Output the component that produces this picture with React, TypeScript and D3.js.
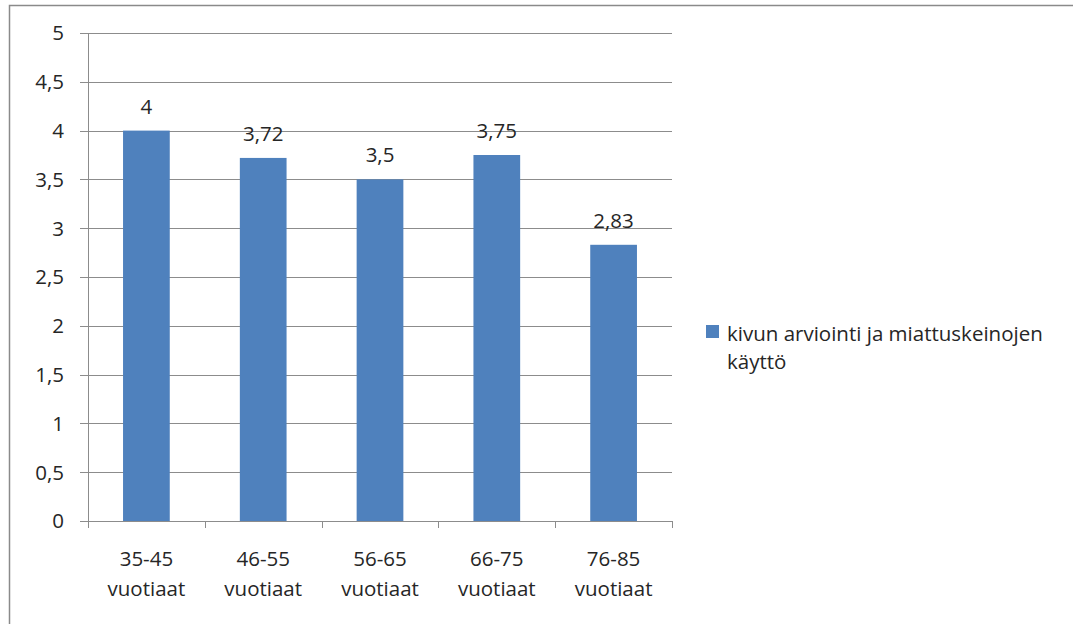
import React from "react";
import * as d3 from "d3";

const categories: string[][] = [
  ["35-45", "vuotiaat"],
  ["46-55", "vuotiaat"],
  ["56-65", "vuotiaat"],
  ["66-75", "vuotiaat"],
  ["76-85", "vuotiaat"],
];
const values: number[] = [4, 3.72, 3.5, 3.75, 2.83];
const valueLabels: string[] = ["4", "3,72", "3,5", "3,75", "2,83"];
const yTicks: number[] = [0, 0.5, 1, 1.5, 2, 2.5, 3, 3.5, 4, 4.5, 5];
const seriesName: string[] = ["kivun arviointi ja miattuskeinojen", "käyttö"];

const W = 1073;
const H = 624;
const left = 88;
const right = 672;
const top = 33;
const bottom = 521;
const FONT = "'Open Sans', 'Noto Sans', sans-serif";
const FS = 20.5;
const TEXT = "#262626";
const GRID = "#8c8c8c";
const BAR = "#4F81BD";

export default function App() {
  const keys = categories.map((c) => c.join(" "));
  const x = d3.scaleBand<string>().domain(keys).range([left, right]).paddingInner(0.6).paddingOuter(0.3);
  const band = d3.scaleBand<string>().domain(keys).range([left, right]);
  const y = d3.scaleLinear().domain([0, 5]).range([bottom, top]);
  const fmt = (v: number) => String(v).replace(".", ",");

  return (
    <svg width={W} height={H} style={{ position: "absolute", left: 0, top: 0 }} fontFamily={FONT}>
      <rect x={0} y={0} width={W} height={H} fill="#fff" />
      <rect x={9.5} y={5.5} width={W + 20} height={H + 20} fill="none" stroke="#8a8a8a" strokeWidth={1.5} />
      {yTicks.map((t) => (
        <g key={t}>
          <line x1={80} x2={right} y1={Math.round(y(t)) + 0.5} y2={Math.round(y(t)) + 0.5} stroke={GRID} strokeWidth={1} />
          <text x={64} y={y(t)} dy="0.36em" textAnchor="end" fontSize={FS} fill={TEXT}>
            {fmt(t)}
          </text>
        </g>
      ))}
      <line x1={left + 0.5} x2={left + 0.5} y1={top} y2={bottom} stroke={GRID} />
      {keys.map((k, i) => (
        <line key={"t" + i} x1={Math.round(band(k)! + band.bandwidth()) + 0.5} x2={Math.round(band(k)! + band.bandwidth()) + 0.5} y1={bottom} y2={bottom + 7} stroke={GRID} />
      ))}
      <line x1={left + 0.5} x2={left + 0.5} y1={bottom} y2={bottom + 7} stroke={GRID} />
      {keys.map((k, i) => (
        <g key={k}>
          <rect x={x(k)} y={y(values[i])} width={x.bandwidth()} height={bottom - y(values[i])} fill={BAR} />
          <text x={x(k)! + x.bandwidth() / 2} y={y(values[i]) - 17} textAnchor="middle" fontSize={FS} fill={TEXT}>
            {valueLabels[i]}
          </text>
          {categories[i].map((line, j) => (
            <text key={j} x={band(k)! + band.bandwidth() / 2} y={566 + j * 30} textAnchor="middle" fontSize={FS} fill={TEXT}>
              {line}
            </text>
          ))}
        </g>
      ))}
      <rect x={706} y={325} width={13} height={13} fill={BAR} />
      {seriesName.map((s, j) => (
        <text key={j} x={727} y={341 + j * 28} fontSize={FS} fill={TEXT}>
          {s}
        </text>
      ))}
    </svg>
  );
}
